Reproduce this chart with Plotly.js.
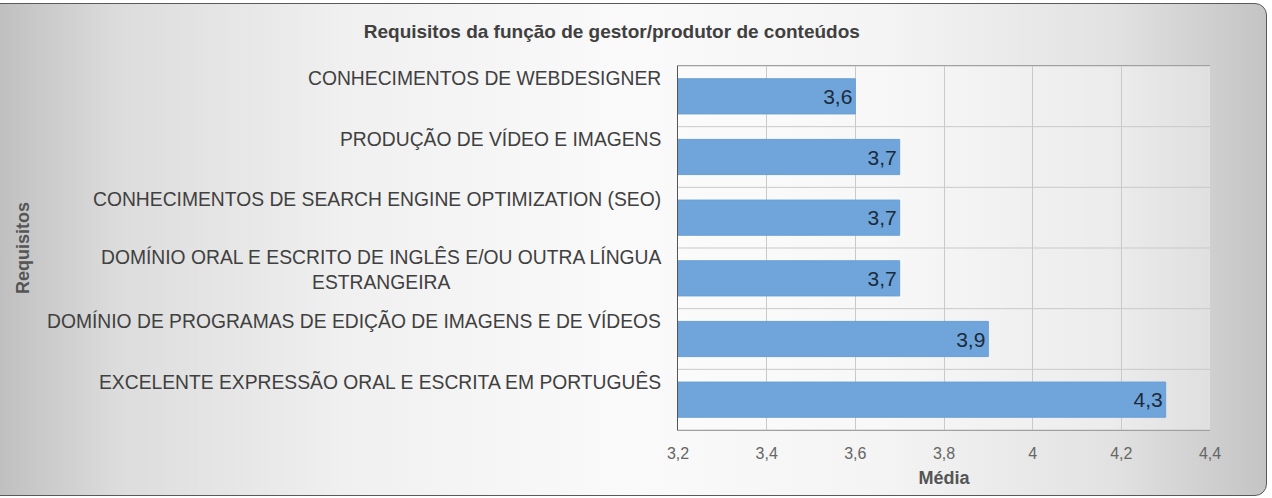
<!DOCTYPE html>
<html><head><meta charset="utf-8">
<script src="https://cdn.plot.ly/plotly-3.0.1.min.js"></script>
<style>
html,body{margin:0;padding:0;width:1272px;height:498px;overflow:hidden;background:#ffffff;}
#frame{position:absolute;left:-12px;top:3px;width:1277px;height:491px;border:1.5px solid #5a5a5a;border-radius:12px;
background:linear-gradient(90deg,#bdbdbd 0%,#dcdcdc 10%,#f0f0f0 28%,#fafafa 50%,#f4f4f4 70%,#e2e2e2 88%,#c4c4c4 100%);}
#chart{position:absolute;left:0;top:0;width:1272px;height:498px;}
</style></head>
<body>
<div id="frame"></div>
<div id="chart"></div>
<script>
const categories = [
  "CONHECIMENTOS DE WEBDESIGNER",
  "PRODUÇÃO DE VÍDEO E IMAGENS",
  "CONHECIMENTOS DE SEARCH ENGINE OPTIMIZATION (SEO)",
  "DOMÍNIO ORAL E ESCRITO DE INGLÊS E/OU OUTRA LÍNGUA<br>ESTRANGEIRA",
  "DOMÍNIO DE PROGRAMAS DE EDIÇÃO DE IMAGENS E DE VÍDEOS",
  "EXCELENTE EXPRESSÃO ORAL E ESCRITA EM PORTUGUÊS"
];
const values = [3.6, 3.7, 3.7, 3.7, 3.9, 4.3];
const valueLabels = ["3,6", "3,7", "3,7", "3,7", "3,9", "4,3"];
const xTicks = [3.2, 3.4, 3.6, 3.8, 4.0, 4.2, 4.4];
const xTickLabels = ["3,2", "3,4", "3,6", "3,8", "4", "4,2", "4,4"];
const chartTitle = "Requisitos da função de gestor/produtor de conteúdos";
const xTitle = "Média";
const yTitle = "Requisitos";

const font = "Liberation Sans, Arial, sans-serif";
const axisBase = 3.2;

const trace = {
  type: "bar",
  orientation: "h",
  y: categories,
  x: values.map(v => v - axisBase),
  base: axisBase,
  text: valueLabels,
  textposition: "inside",
  insidetextanchor: "end",
  textangle: 0,
  textfont: {family: font, size: 21, color: "#1d2a3a"},
  marker: {color: "#6fa5da", line: {color: "#6a9fd4", width: 1}},
  hoverinfo: "skip"
};

const annotations = categories.map(c => ({
  xref: "paper", yref: "y", x: 0, y: c,
  xanchor: "right", yanchor: "middle",
  xshift: -15,
  yshift: c.includes("<br>") ? 9 : 18,
  text: c, showarrow: false, align: "center",
  font: {family: font, size: 19.3, color: "#404040"}
}));

const layout = {
  width: 1272, height: 498,
  paper_bgcolor: "rgba(0,0,0,0)",
  plot_bgcolor: "rgba(255,255,255,0.35)",
  margin: {l: 678, r: 62, t: 66, b: 68},
  bargap: 0.42,
  showlegend: false,
  title: {text: chartTitle, x: 0.481, xanchor: "center", y: 0.937, yanchor: "middle",
          font: {family: font, size: 19, color: "#404040", weight: "bold"}},
  xaxis: {
    range: [3.2, 4.4], tickvals: xTicks, ticktext: xTickLabels,
    showgrid: true, gridcolor: "#c9c9c9", gridwidth: 1,
    zeroline: false, showline: true, linecolor: "#a0a0a0", linewidth: 1,
    ticks: "", tickfont: {family: font, size: 16, color: "#666666"},
    ticklabelstandoff: 9,
    title: {text: xTitle, standoff: 10, font: {family: font, size: 18, color: "#555555", weight: "bold"}},
    mirror: true
  },
  yaxis: {
    range: [categories.length - 0.5, -0.5], autorange: false,
    showticklabels: false, ticks: "",
    showgrid: false, zeroline: false, showline: true, linecolor: "#555555", linewidth: 1.5,
    title: {text: ""}
  },
  shapes: [],
  annotations: annotations.concat([{
    xref: "paper", yref: "paper", x: 0, y: 0.5, xshift: -667,
    text: yTitle, textangle: -90, showarrow: false,
    font: {family: font, size: 18, color: "#555555", weight: "bold"}
  }])
};
for (let i = 0; i <= categories.length; i++) {
  layout.shapes.push({type: "line", xref: "paper", x0: 0, x1: 1, yref: "y",
    y0: i - 0.5, y1: i - 0.5, line: {color: "#c9c9c9", width: 1}, layer: "below"});
}

Plotly.newPlot("chart", [trace], layout, {displayModeBar: false, staticPlot: true});
</script>
</body></html>
